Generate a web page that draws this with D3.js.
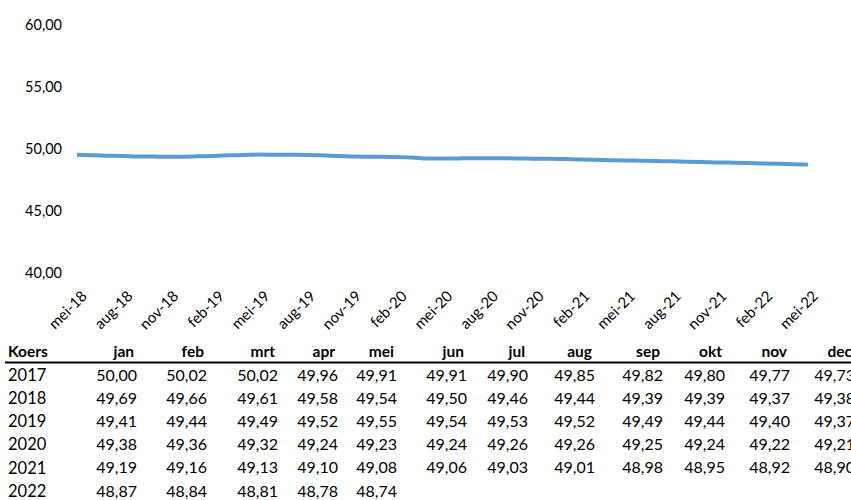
<!DOCTYPE html>
<html>
<head>
<meta charset="utf-8">
<script src="https://cdn.jsdelivr.net/npm/d3@7"></script>
<style>
    body { margin: 0; background: #fff; }
    svg { display: block; }
</style>
</head>
<body>
<svg id="chart" width="851" height="500"></svg>
<script>
// koers per maand, uit de tabel
var months = ["jan", "feb", "mrt", "apr", "mei", "jun", "jul", "aug", "sep", "okt", "nov", "dec"];
var years = ["2017", "2018", "2019", "2020", "2021", "2022"];
var rates2017 = [50.00, 50.02, 50.02, 49.96, 49.91, 49.91, 49.90, 49.85, 49.82, 49.80, 49.77, 49.73];
var rates2018 = [49.69, 49.66, 49.61, 49.58, 49.54, 49.50, 49.46, 49.44, 49.39, 49.39, 49.37, 49.38];
var rates2019 = [49.41, 49.44, 49.49, 49.52, 49.55, 49.54, 49.53, 49.52, 49.49, 49.44, 49.40, 49.37];
var rates2020 = [49.38, 49.36, 49.32, 49.24, 49.23, 49.24, 49.26, 49.26, 49.25, 49.24, 49.22, 49.21];
var rates2021 = [49.19, 49.16, 49.13, 49.10, 49.08, 49.06, 49.03, 49.01, 48.98, 48.95, 48.92, 48.90];
var rates2022 = [48.87, 48.84, 48.81, 48.78, 48.74];

var yTicks = [40, 45, 50, 55, 60];
var xTickLabels = ["mei-18", "aug-18", "nov-18", "feb-19", "mei-19", "aug-19", "nov-19", "feb-20",
    "mei-20", "aug-20", "nov-20", "feb-21", "mei-21", "aug-21", "nov-21", "feb-22", "mei-22"];

var tableRows = [rates2017, rates2018, rates2019, rates2020, rates2021, rates2022];

// lijn loopt van mei-18 t/m mei-22
var lineValues = [];
tableRows.forEach(function (row, r) {
    row.forEach(function (v, m) {
        if (r > 1 || (r === 1 && m >= 4)) lineValues.push(v);
    });
});

var fmt = function (v) { return d3.format(".2f")(v).replace(".", ","); };
var font = "Lato, 'Liberation Sans', sans-serif";

var svg = d3.select("#chart");

var x = d3.scalePoint()
    .domain(d3.range(lineValues.length))
    .range([77, 808]);

var y = d3.scaleLinear()
    .domain([40, 60])
    .range([273, 25]);

// y-as labels
svg.append("g")
    .selectAll("text")
    .data(yTicks)
    .join("text")
    .attr("x", 62)
    .attr("y", function (d) { return y(d); })
    .attr("dy", "0.35em")
    .attr("text-anchor", "end")
    .attr("font-family", font)
    .attr("font-size", 14.5)
    .attr("fill", "#000")
    .text(fmt);

// x-as labels, elke 3 maanden
svg.append("g")
    .selectAll("text")
    .data(xTickLabels)
    .join("text")
    .attr("transform", function (d, i) {
        return "translate(" + (x(i * 3) + 11) + ",297) rotate(-45)";
    })
    .attr("text-anchor", "end")
    .attr("font-family", font)
    .attr("font-size", 15)
    .attr("fill", "#000")
    .text(function (d) { return d; });

var line = d3.line()
    .x(function (d, i) { return x(i); })
    .y(function (d) { return y(d); })
    .curve(d3.curveMonotoneX);

svg.append("path")
    .datum(lineValues)
    .attr("d", line)
    .attr("fill", "none")
    .attr("stroke", "#5b9bd5")
    .attr("stroke-width", 4)
    .attr("stroke-linecap", "butt");

// tabel (laatste kolom valt net buiten beeld, zoals in het origineel)
var colRight = [137, 207, 278, 338, 397, 467, 528, 595, 663, 725, 790, 855];
var headerY = 352;
var rowY = d3.scaleLinear().domain([0, 5]).range([375, 491]);

var table = svg.append("g")
    .attr("font-family", font)
    .attr("fill", "#000");

table.append("text")
    .attr("x", 8)
    .attr("y", headerY)
    .attr("dy", "0.35em")
    .attr("font-size", 15.5)
    .attr("font-weight", "bold")
    .text("Koers");

table.selectAll("text.month")
    .data(months)
    .join("text")
    .attr("class", "month")
    .attr("x", function (d, i) { return colRight[i] - 3; })
    .attr("y", headerY)
    .attr("dy", "0.35em")
    .attr("text-anchor", "end")
    .attr("font-size", 15.5)
    .attr("font-weight", "bold")
    .text(function (d) { return d; });

table.append("line")
    .attr("x1", 5)
    .attr("x2", 851)
    .attr("y1", 362.5)
    .attr("y2", 362.5)
    .attr("stroke", "#000")
    .attr("stroke-width", 2);

table.selectAll("text.year")
    .data(years)
    .join("text")
    .attr("class", "year")
    .attr("x", 8)
    .attr("y", function (d, i) { return rowY(i); })
    .attr("dy", "0.35em")
    .attr("font-size", 16.5)
    .text(function (d) { return d; });

tableRows.forEach(function (row, r) {
    table.append("g")
        .selectAll("text")
        .data(row)
        .join("text")
        .attr("x", function (d, i) { return colRight[i]; })
        .attr("y", rowY(r))
        .attr("dy", "0.35em")
        .attr("text-anchor", "end")
        .attr("font-size", 16)
        .text(fmt);
});
</script>
</body>
</html>
